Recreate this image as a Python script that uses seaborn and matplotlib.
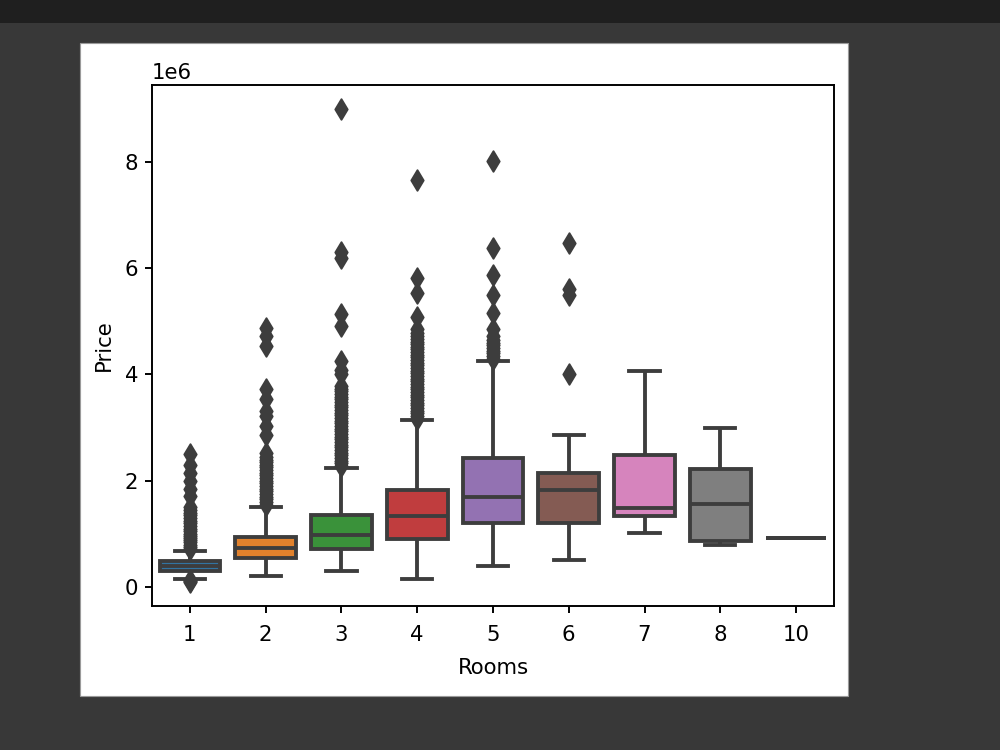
import matplotlib
matplotlib.use("Agg")
import matplotlib.pyplot as plt
from matplotlib.patches import Rectangle
from matplotlib.ticker import MultipleLocator
import seaborn as sns
import pandas as pd

UNIT = 1e6  # prices are written in millions below

rooms = ["1", "2", "3", "4", "5", "6", "7", "8", "10"]
whisker_low = [0.16, 0.20, 0.30, 0.16, 0.39, 0.51, 1.01, 0.79, 0.92]
q1 = [0.31, 0.545, 0.71, 0.91, 1.20, 1.20, 1.34, 0.87, 0.92]
median = [0.40, 0.73, 0.98, 1.33, 1.69, 1.83, 1.49, 1.56, 0.92]
q3 = [0.49, 0.945, 1.35, 1.83, 2.42, 2.14, 2.49, 2.23, 0.92]
whisker_high = [0.68, 1.515, 2.24, 3.14, 4.25, 2.86, 4.07, 2.99, 0.92]

outliers_1 = [0.09, 0.11, 0.13, 0.72, 0.76, 0.80, 0.84, 0.88, 0.92, 0.96, 1.00,
              1.05, 1.10, 1.15, 1.20, 1.25, 1.30, 1.35, 1.40, 1.45, 1.50, 1.71,
              1.85, 2.00, 2.15, 2.30, 2.50]
outliers_2 = [1.55, 1.60, 1.65, 1.70, 1.75, 1.80, 1.85, 1.90, 1.95, 2.00, 2.05,
              2.10, 2.15, 2.20, 2.25, 2.30, 2.35, 2.40, 2.45, 2.53, 2.87, 3.03,
              3.22, 3.31, 3.53, 3.72, 4.53, 4.72, 4.88]
outliers_3 = [2.28, 2.33, 2.38, 2.43, 2.48, 2.53, 2.58, 2.63, 2.68, 2.73, 2.78,
              2.83, 2.88, 2.93, 2.98, 3.03, 3.08, 3.13, 3.18, 3.23, 3.28, 3.33,
              3.38, 3.43, 3.48, 3.53, 3.58, 3.63, 3.68, 3.73, 3.78, 4.00, 4.09,
              4.25, 4.91, 5.13, 6.20, 6.30, 9.00]
outliers_4 = [3.17, 3.22, 3.27, 3.32, 3.37, 3.42, 3.47, 3.52, 3.57, 3.62, 3.67,
              3.72, 3.77, 3.82, 3.87, 3.92, 3.97, 4.02, 4.07, 4.12, 4.17, 4.22,
              4.27, 4.32, 4.37, 4.42, 4.47, 4.52, 4.57, 4.62, 4.67, 4.72, 4.78,
              4.85, 5.09, 5.53, 5.82, 7.65]
outliers_5 = [4.30, 4.35, 4.40, 4.45, 4.50, 4.55, 4.60, 4.65, 4.72, 4.85, 5.16,
              5.50, 5.88, 6.38, 8.02]
outliers_6 = [4.00, 5.50, 5.60, 6.48]

palette = ["#1f77b4", "#ff7f0e", "#2ca02c", "#d62728", "#9467bd",
           "#8c564b", "#e377c2", "#7f7f7f", "#bcbd22"]
line_gray = "#3d3d3d"

# box table: five values per room reproduce its whiskers, quartiles and median
box_rows = []
for i, r in enumerate(rooms):
    for v in (whisker_low[i], q1[i], median[i], q3[i], whisker_high[i]):
        box_rows.append({"Rooms": r, "Price": v * UNIT})
box_df = pd.DataFrame(box_rows)

flier_rows = []
for r, vals in zip(["1", "2", "3", "4", "5", "6"],
                   [outliers_1, outliers_2, outliers_3, outliers_4, outliers_5, outliers_6]):
    for v in vals:
        flier_rows.append({"Rooms": r, "Price": v * UNIT})
flier_df = pd.DataFrame(flier_rows)

plt.rcParams.update({
    "font.size": 11,
    "axes.linewidth": 1.0,
    "xtick.major.width": 1.0,
    "ytick.major.width": 1.0,
    "xtick.major.pad": 6.5,
    "axes.labelpad": 6.5,
})

DPI = 139
fig = plt.figure(figsize=(7.1943, 5.3958), dpi=DPI)
fig.patch.set_facecolor("#383838")
fig.patches.append(Rectangle((0, 1 - 23 / 750), 1, 23 / 750, transform=fig.transFigure,
                             facecolor="#1f1f1f", edgecolor="none", zorder=-10))
fig.patches.append(Rectangle((0.080, 1 - 696 / 750), 0.768, (696 - 43) / 750,
                             transform=fig.transFigure, facecolor="white",
                             edgecolor="#9a9a9a", linewidth=0.6, zorder=-10))

ax = fig.add_axes([0.152, 1 - 606 / 750, 0.682, 521 / 750])

sns.boxplot(data=box_df, x="Rooms", y="Price", hue="Rooms", order=rooms,
            hue_order=rooms, palette=palette, legend=False, width=0.8,
            saturation=0.75, whis=(0, 100), showfliers=False,
            linewidth=2.0, linecolor=line_gray, ax=ax)
sns.stripplot(data=flier_df, x="Rooms", y="Price", order=rooms, jitter=False,
              marker="d", size=7.5, color=line_gray, edgecolor=line_gray,
              linewidth=1, ax=ax, zorder=3)

ax.yaxis.set_major_locator(MultipleLocator(2 * UNIT))
ax.set_xlabel("Rooms")
ax.set_ylabel("Price", labelpad=5.5)

fig.savefig("out.png", dpi=DPI, facecolor=fig.get_facecolor())
